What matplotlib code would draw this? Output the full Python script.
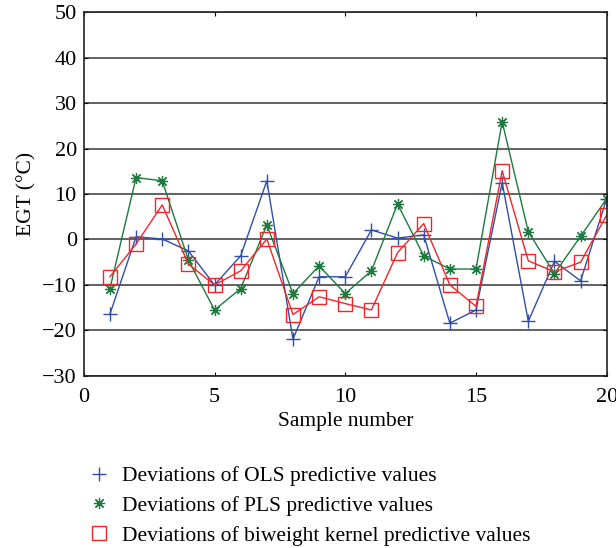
import numpy as np
import matplotlib.pyplot as plt
from matplotlib.lines import Line2D

plt.rcParams['font.family'] = ['Liberation Serif', 'DejaVu Serif']

# Data
samples = np.arange(1, 21)
ols = [-16.4, 0.6, 0.1, -2.5, -10.0, -3.6, 12.9, -21.9, -8.2, -8.2,
       2.1, 0.3, 1.0, -18.4, -15.5, 12.5, -18.0, -4.8, -9.1, 9.0]
pls = [-10.8, 13.6, 12.9, -4.5, -15.5, -10.8, 3.2, -11.9, -5.8, -11.9,
       -6.9, 7.8, -3.6, -6.5, -6.5, 25.9, 1.7, -7.5, 0.7, 9.0]
biweight = [-8.2, -1.0, 7.6, -5.4, -10.0, -6.9, 0.1, -16.5, -12.6, -14.1,
            -15.5, -2.9, 3.5, -10.0, -14.7, 15.1, -4.7, -7.1, -5.0, 5.4]

labels = ['Deviations of OLS predictive values',
          'Deviations of PLS predictive values',
          'Deviations of biweight kernel predictive values']
blue = '#2f4fa8'
green = '#1b7a3c'
red = '#f0262a'

fig = plt.figure(figsize=(6.16, 5.48), dpi=100)
ax = fig.add_axes([0.136, 0.314, 0.849, 0.664])

ax.plot(samples, ols, color=blue, lw=1.0, marker='+', ms=9.5, mew=1.0)
ax.plot(samples, pls, color=green, lw=1.0, marker=(8, 2, 0), ms=8, mew=0.9)
ax.plot(samples, biweight, color=red, lw=1.0, marker='s', ms=10,
        mfc='none', mec=red, mew=1.0)

ax.set_xlim(0, 20)
ax.set_ylim(-30, 50)
ax.set_xticks([0, 5, 10, 15, 20])
ax.set_yticks(np.arange(-30, 51, 10))
ax.set_yticklabels(['\u221230', '\u221220', '\u221210', '0', '10', '20', '30', '40', '50'])
ax.yaxis.grid(True, color='#555555', lw=1.3)
ax.set_axisbelow(True)
ax.tick_params(direction='in', labelsize=16, length=3, right=True, top=True)
ax.tick_params(axis='y', pad=5)
ax.tick_params(axis='x', pad=9)
for s in ax.spines.values():
    s.set_linewidth(1.2)
    s.set_color('#222222')

ax.set_xlabel('Sample number', fontsize=15.5, labelpad=3)
ax.set_ylabel('EGT (\u00b0C)', fontsize=15.5, labelpad=4)

handles = [
    Line2D([], [], ls='none', color=blue, marker='+', ms=9.5, mew=1.0),
    Line2D([], [], ls='none', color=green, marker=(8, 2, 0), ms=8, mew=0.9),
    Line2D([], [], ls='none', marker='s', ms=10, mfc='none', mec=red, mew=1.0),
]
fig.legend(handles, labels, loc='upper left', bbox_to_anchor=(0.125, 0.165),
           frameon=False, fontsize=15.5, handletextpad=0.5, labelspacing=0.45,
           handlelength=1.2, borderaxespad=0)

fig.savefig('out.png', dpi=100)
